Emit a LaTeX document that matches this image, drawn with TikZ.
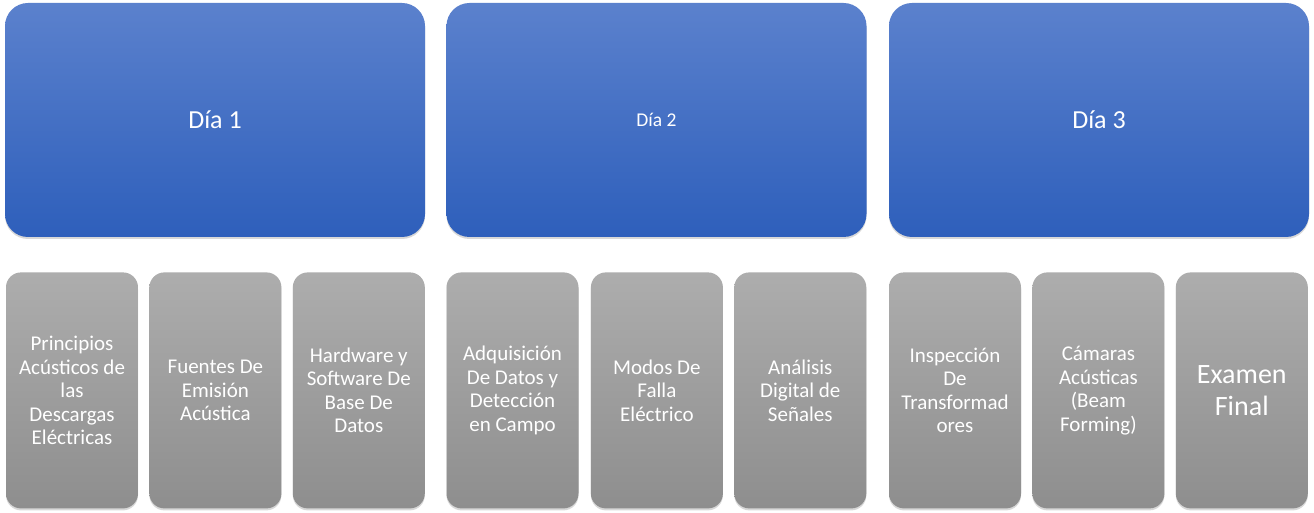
\documentclass[tikz,border=0pt]{standalone}
\usepackage{fontspec}
\setmainfont{Carlito}
\usetikzlibrary{positioning,shadows}

\tikzset{
  dia/.style={rectangle,rounded corners=23pt,minimum width=420pt,minimum height=234pt,
    inner sep=0pt,top color=blue1,bottom color=blue2,text=white,
    drop shadow={opacity=0.3,shadow xshift=0pt,shadow yshift=-2pt},
    font=\fontsize{26}{31}\selectfont},
  tema/.style={rectangle,rounded corners=15pt,minimum width=132pt,minimum height=236pt,
    inner sep=0pt,top color=gray1,bottom color=gray2,text=white,align=center,
    drop shadow={opacity=0.3,shadow xshift=0pt,shadow yshift=-2pt},
    font=\fontsize{21}{23.5}\selectfont}
}
\definecolor{blue1}{HTML}{5B81CD}
\definecolor{blue2}{HTML}{2E5FBB}
\definecolor{gray1}{HTML}{ADADAD}
\definecolor{gray2}{HTML}{8E8E8E}

\begin{document}
\begin{tikzpicture}[x=1pt,y=1pt]
      \useasboundingbox[fill=white] (0,0) rectangle (1314,512);
      % days
      \node[dia] (dia1) at (215,392) {Día 1};
      \node[dia,font=\fontsize{19.5}{23}\selectfont] (dia2) at (656.5,392) {Día 2};
      \node[dia] (dia3) at (1099,392) {Día 3};
      % day 1 topics
      \node[tema,below=35pt of dia1.south west,anchor=north west,xshift=1pt] (t11) {Principios\\Acústicos de\\las\\Descargas\\Eléctricas};
      \node[tema,right=11pt of t11] (t12) {Fuentes De\\Emisión\\Acústica};
      \node[tema,right=11pt of t12] (t13) {Hardware y\\Software De\\Base De\\Datos};
      % day 2 topics
      \node[tema,below=35pt of dia2.south west,anchor=north west] (t21) {Adquisición\\De Datos y\\Detección\\en Campo};
      \node[tema,right=12pt of t21] (t22) {Modos De\\Falla\\Eléctrico};
      \node[tema,right=11pt of t22] (t23) {Análisis\\Digital de\\Señales};
      % day 3 topics
      \node[tema,below=35pt of dia3.south west,anchor=north west] (t31) {Inspección\\De\\Transformad\\ores};
      \node[tema,right=11pt of t31] (t32) {Cámaras\\Acústicas\\(Beam\\Forming)};
      \node[tema,right=11pt of t32,font=\fontsize{28}{32}\selectfont] (t33) {Examen\\Final};
    \end{tikzpicture}
\end{document}
